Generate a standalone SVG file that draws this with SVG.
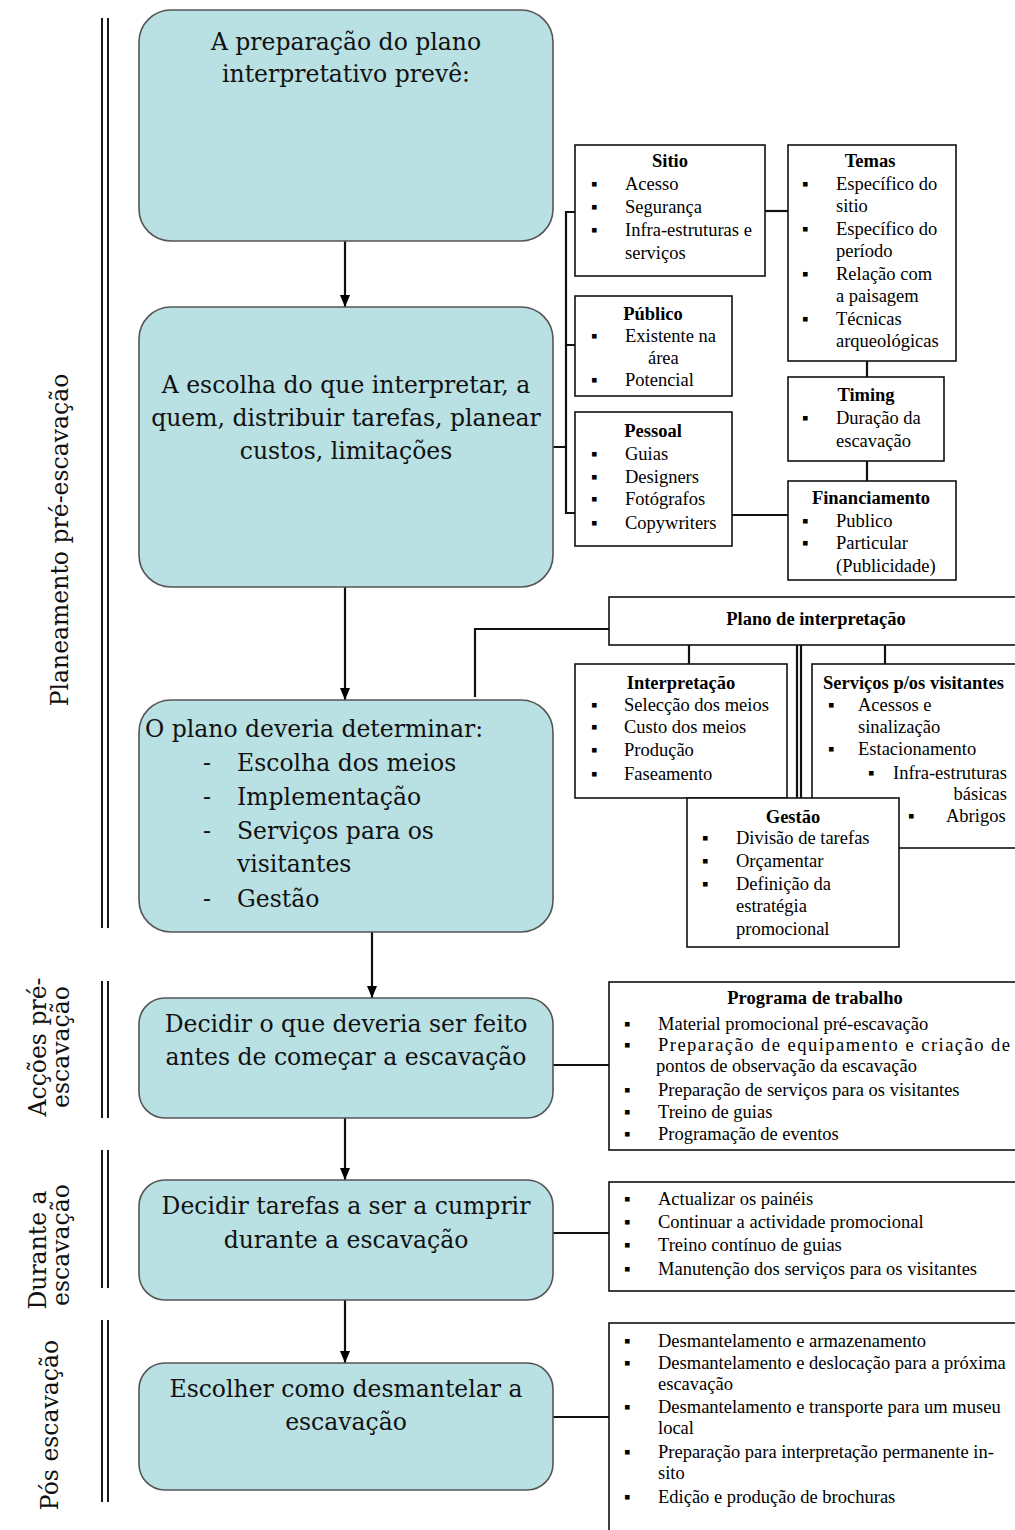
<svg xmlns="http://www.w3.org/2000/svg" width="1015" height="1530" viewBox="0 0 1015 1530">
<defs>
<marker id="ah" viewBox="0 0 12 10" refX="12" refY="5" markerWidth="12" markerHeight="10" markerUnits="userSpaceOnUse" orient="auto">
<path d="M0,0 L12,5 L0,10 Z" fill="#000"/>
</marker>
<style>
.main{fill:#b9e0e3;stroke:#555;stroke-width:1.6}
.mt{font-family:"DejaVu Serif","Liberation Serif",serif;font-size:23.5px;fill:#111}
.box{fill:#fff;stroke:#111;stroke-width:1.6}
.st{font-family:"Liberation Serif","Times New Roman",serif;font-size:18.5px;fill:#000}
.tt{font-family:"Liberation Serif","Times New Roman",serif;font-size:18.5px;font-weight:bold;fill:#000}
.lab{font-family:"DejaVu Serif","Liberation Serif",serif;font-size:23.5px;fill:#111}
.c{text-anchor:middle}
.con{fill:none;stroke:#111;stroke-width:2.2}
.arr{fill:none;stroke:#111;stroke-width:2.2}
.dl{stroke:#000;stroke-width:1.8}
</style>
</defs>
<rect width="1015" height="1530" fill="#fff"/>

<g id="side-labels">
<line class="dl" x1="102" y1="18" x2="102" y2="928"/>
<line class="dl" x1="108" y1="18" x2="108" y2="928"/>
<text class="lab c" transform="translate(68,540) rotate(-90)">Planeamento pré-escavação</text>
<line class="dl" x1="102" y1="981" x2="102" y2="1118"/>
<line class="dl" x1="108" y1="981" x2="108" y2="1118"/>
<text class="lab c" transform="translate(46,1047) rotate(-90)">Acções pré-</text>
<text class="lab c" transform="translate(69,1047) rotate(-90)">escavação</text>
<line class="dl" x1="102" y1="1150" x2="102" y2="1288"/>
<line class="dl" x1="108" y1="1150" x2="108" y2="1288"/>
<text class="lab c" transform="translate(46,1250) rotate(-90)">Durante a</text>
<text class="lab c" transform="translate(69,1245) rotate(-90)">escavação</text>
<line class="dl" x1="102" y1="1320" x2="102" y2="1502"/>
<line class="dl" x1="108" y1="1320" x2="108" y2="1502"/>
<text class="lab c" transform="translate(58,1425) rotate(-90)">Pós escavação</text>
</g>

<g id="connectors">
<line class="arr" x1="345" y1="241" x2="345" y2="307" marker-end="url(#ah)"/>
<line class="arr" x1="345" y1="587" x2="345" y2="700" marker-end="url(#ah)"/>
<line class="arr" x1="372" y1="932" x2="372" y2="998" marker-end="url(#ah)"/>
<line class="arr" x1="345" y1="1118" x2="345" y2="1180" marker-end="url(#ah)"/>
<line class="arr" x1="345" y1="1300" x2="345" y2="1363" marker-end="url(#ah)"/>
<path class="con" d="M575,212 H566 V513 H575 M566,345 H575 M553,447 H566"/>
<line class="con" x1="765" y1="211" x2="788" y2="211"/>
<line class="con" x1="867" y1="361" x2="867" y2="377"/>
<line class="con" x1="867" y1="461" x2="867" y2="481"/>
<line class="con" x1="732" y1="515" x2="788" y2="515"/>
<path class="con" d="M475,697 V629 H609"/>
<line class="con" x1="689" y1="645" x2="689" y2="664"/>
<line class="con" x1="885" y1="645" x2="885" y2="664"/>
<line class="con" x1="797" y1="645" x2="797" y2="798" stroke-width="1.6"/>
<line class="con" x1="801" y1="645" x2="801" y2="798" stroke-width="1.6"/>
<line class="con" x1="553" y1="1065" x2="609" y2="1065"/>
<line class="con" x1="553" y1="1233" x2="609" y2="1233"/>
<line class="con" x1="553" y1="1417" x2="609" y2="1417"/>
</g>

<g id="box-preparacao">
<rect class="main" x="139" y="10" width="414" height="231" rx="32"/>
<text class="mt c" x="346" y="50">A preparação do plano</text>
<text class="mt c" x="346" y="82">interpretativo prevê:</text>
</g>

<g id="box-escolha">
<rect class="main" x="139" y="307" width="414" height="280" rx="32"/>
<text class="mt c" x="346" y="393">A escolha do que interpretar, a</text>
<text class="mt c" x="346" y="426">quem, distribuir tarefas, planear</text>
<text class="mt c" x="346" y="459">custos, limitações</text>
</g>

<g id="box-plano">
<rect class="main" x="139" y="700" width="414" height="232" rx="32"/>
<text class="mt" x="145" y="737">O plano deveria determinar:</text>
<text class="mt" x="203" y="771">-</text><text class="mt" x="237" y="771">Escolha dos meios</text>
<text class="mt" x="203" y="805">-</text><text class="mt" x="237" y="805">Implementação</text>
<text class="mt" x="203" y="839">-</text><text class="mt" x="237" y="839">Serviços para os</text>
<text class="mt" x="237" y="872">visitantes</text>
<text class="mt" x="203" y="907">-</text><text class="mt" x="237" y="907">Gestão</text>
</g>

<g id="box-decidir-antes">
<rect class="main" x="139" y="998" width="414" height="120" rx="26"/>
<text class="mt c" x="346" y="1032">Decidir o que deveria ser feito</text>
<text class="mt c" x="346" y="1065">antes de começar a escavação</text>
</g>

<g id="box-decidir-durante">
<rect class="main" x="139" y="1180" width="414" height="120" rx="26"/>
<text class="mt c" x="346" y="1214">Decidir tarefas a ser a cumprir</text>
<text class="mt c" x="346" y="1248">durante a escavação</text>
</g>

<g id="box-desmantelar">
<rect class="main" x="139" y="1363" width="414" height="127" rx="26"/>
<text class="mt c" x="346" y="1397">Escolher como desmantelar a</text>
<text class="mt c" x="346" y="1430">escavação</text>
</g>

<g id="box-sitio">
<rect class="box" x="575" y="145" width="190" height="131"/>
<text class="tt c" x="670" y="167">Sitio</text>
<text class="st" x="591" y="190">▪</text><text class="st" x="625" y="190">Acesso</text>
<text class="st" x="591" y="213">▪</text><text class="st" x="625" y="213">Segurança</text>
<text class="st" x="591" y="236">▪</text><text class="st" x="625" y="236">Infra-estruturas e</text>
<text class="st" x="625" y="259">serviços</text>
</g>

<g id="box-temas">
<rect class="box" x="788" y="145" width="168" height="216"/>
<text class="tt c" x="870" y="167">Temas</text>
<text class="st" x="802" y="190">▪</text><text class="st" x="836" y="190">Específico do</text>
<text class="st" x="836" y="212">sitio</text>
<text class="st" x="802" y="235">▪</text><text class="st" x="836" y="235">Específico do</text>
<text class="st" x="836" y="257">período</text>
<text class="st" x="802" y="280">▪</text><text class="st" x="836" y="280">Relação com</text>
<text class="st" x="836" y="302">a paisagem</text>
<text class="st" x="802" y="325">▪</text><text class="st" x="836" y="325">Técnicas</text>
<text class="st" x="836" y="347">arqueológicas</text>
</g>

<g id="box-publico">
<rect class="box" x="575" y="296" width="157" height="100"/>
<text class="tt c" x="653" y="320">Público</text>
<text class="st" x="591" y="342">▪</text><text class="st" x="625" y="342">Existente na</text>
<text class="st" x="648" y="364">área</text>
<text class="st" x="591" y="386">▪</text><text class="st" x="625" y="386">Potencial</text>
</g>

<g id="box-timing">
<rect class="box" x="788" y="377" width="156" height="84"/>
<text class="tt c" x="866" y="401">Timing</text>
<text class="st" x="802" y="424">▪</text><text class="st" x="836" y="424">Duração da</text>
<text class="st" x="836" y="447">escavação</text>
</g>

<g id="box-pessoal">
<rect class="box" x="575" y="412" width="157" height="134"/>
<text class="tt c" x="653" y="437">Pessoal</text>
<text class="st" x="591" y="460">▪</text><text class="st" x="625" y="460">Guias</text>
<text class="st" x="591" y="483">▪</text><text class="st" x="625" y="483">Designers</text>
<text class="st" x="591" y="505">▪</text><text class="st" x="625" y="505">Fotógrafos</text>
<text class="st" x="591" y="529">▪</text><text class="st" x="625" y="529">Copywriters</text>
</g>

<g id="box-financiamento">
<rect class="box" x="788" y="481" width="168" height="99"/>
<text class="tt c" x="871" y="504">Financiamento</text>
<text class="st" x="802" y="527">▪</text><text class="st" x="836" y="527">Publico</text>
<text class="st" x="802" y="549">▪</text><text class="st" x="836" y="549">Particular</text>
<text class="st" x="836" y="572">(Publicidade)</text>
</g>

<g id="box-plano-interpretacao">
<rect class="box" x="609" y="597" width="410" height="48"/>
<text class="tt c" x="816" y="625">Plano de interpretação</text>
</g>

<g id="box-interpretacao">
<rect class="box" x="575" y="664" width="212" height="134"/>
<text class="tt c" x="681" y="689">Interpretação</text>
<text class="st" x="591" y="711">▪</text><text class="st" x="624" y="711">Selecção dos meios</text>
<text class="st" x="591" y="733">▪</text><text class="st" x="624" y="733">Custo dos meios</text>
<text class="st" x="591" y="756">▪</text><text class="st" x="624" y="756">Produção</text>
<text class="st" x="591" y="780">▪</text><text class="st" x="624" y="780">Faseamento</text>
</g>

<g id="box-servicos">
<rect class="box" x="812" y="664" width="210" height="184"/>
<text class="tt" x="823" y="689">Serviços p/os visitantes</text>
<text class="st" x="828" y="711">▪</text><text class="st" x="858" y="711">Acessos e</text>
<text class="st" x="858" y="733">sinalização</text>
<text class="st" x="828" y="755">▪</text><text class="st" x="858" y="755">Estacionamento</text>
<text class="st" x="868" y="779">▪</text><text class="st" x="893" y="779">Infra-estruturas</text>
<text class="st" x="1007" y="800" text-anchor="end">básicas</text>
<text class="st" x="908" y="822">▪</text><text class="st" x="946" y="822">Abrigos</text>
</g>

<g id="box-gestao">
<rect class="box" x="687" y="798" width="212" height="149"/>
<text class="tt c" x="793" y="823">Gestão</text>
<text class="st" x="702" y="844">▪</text><text class="st" x="736" y="844">Divisão de tarefas</text>
<text class="st" x="702" y="867">▪</text><text class="st" x="736" y="867">Orçamentar</text>
<text class="st" x="702" y="890">▪</text><text class="st" x="736" y="890">Definição da</text>
<text class="st" x="736" y="912">estratégia</text>
<text class="st" x="736" y="935">promocional</text>
</g>

<g id="box-programa">
<rect class="box" x="609" y="982" width="410" height="168"/>
<text class="tt c" x="815" y="1004">Programa de trabalho</text>
<text class="st" x="624" y="1030">▪</text><text class="st" x="658" y="1030">Material promocional pré-escavação</text>
<text class="st" x="624" y="1051">▪</text><text class="st" x="658" y="1051" textLength="352" lengthAdjust="spacing">Preparação de equipamento e criação de</text>
<text class="st" x="656" y="1072">pontos de observação da escavação</text>
<text class="st" x="624" y="1096">▪</text><text class="st" x="658" y="1096">Preparação de serviços para os visitantes</text>
<text class="st" x="624" y="1118">▪</text><text class="st" x="658" y="1118">Treino de guias</text>
<text class="st" x="624" y="1140">▪</text><text class="st" x="658" y="1140">Programação de eventos</text>
</g>

<g id="box-durante">
<rect class="box" x="609" y="1182" width="410" height="109"/>
<text class="st" x="624" y="1205">▪</text><text class="st" x="658" y="1205">Actualizar os painéis</text>
<text class="st" x="624" y="1228">▪</text><text class="st" x="658" y="1228">Continuar a actividade promocional</text>
<text class="st" x="624" y="1251">▪</text><text class="st" x="658" y="1251">Treino contínuo de guias</text>
<text class="st" x="624" y="1275">▪</text><text class="st" x="658" y="1275">Manutenção dos serviços para os visitantes</text>
</g>

<g id="box-pos">
<rect class="box" x="609" y="1323" width="410" height="220"/>
<text class="st" x="624" y="1347">▪</text><text class="st" x="658" y="1347">Desmantelamento e armazenamento</text>
<text class="st" x="624" y="1369">▪</text><text class="st" x="658" y="1369">Desmantelamento e deslocação para a próxima</text>
<text class="st" x="658" y="1390">escavação</text>
<text class="st" x="624" y="1413">▪</text><text class="st" x="658" y="1413">Desmantelamento e transporte para um museu</text>
<text class="st" x="658" y="1434">local</text>
<text class="st" x="624" y="1458">▪</text><text class="st" x="658" y="1458">Preparação para interpretação permanente in-</text>
<text class="st" x="658" y="1479">sito</text>
<text class="st" x="624" y="1503">▪</text><text class="st" x="658" y="1503">Edição e produção de brochuras</text>
</g>
</svg>
